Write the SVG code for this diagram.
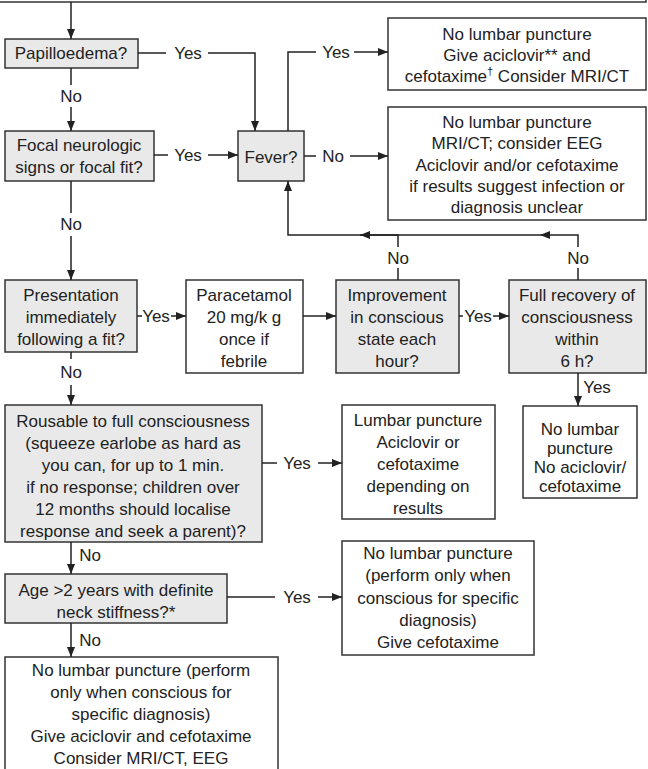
<svg xmlns="http://www.w3.org/2000/svg" width="648" height="769" viewBox="0 0 648 769">
<defs>
<marker id="ah" viewBox="0 0 10 8" refX="10" refY="4" markerWidth="10" markerHeight="8" markerUnits="userSpaceOnUse" orient="auto">
<path d="M0,0 L10,4 L0,8 Z" fill="#222"/>
</marker>
<style>
.q{fill:#e9e9e9;stroke:#333;stroke-width:1.5}
.a{fill:#fff;stroke:#333;stroke-width:1.5}
text{font-family:"Liberation Sans",Arial,sans-serif;font-size:17px;fill:#222;text-anchor:middle;dominant-baseline:central}
.c path{fill:none;stroke:#222;stroke-width:1.5}
.m{marker-end:url(#ah)}
</style>
</defs>
<rect width="648" height="769" fill="#fff"/>
<g id="top"><rect class="a" x="-2" y="-30" width="648" height="32"/></g>

<g id="papilloedema"><rect class="q" x="5" y="39" width="133" height="29"/><text x="71" y="53">Papilloedema?</text></g>
<g id="focal"><rect class="q" x="5" y="131" width="149" height="50"/><text x="79" y="145">Focal neurologic</text><text x="79" y="167">signs or focal fit?</text></g>
<g id="fever"><rect class="q" x="238" y="131" width="66" height="50"/><text x="271" y="157">Fever?</text></g>
<g id="out1"><rect class="a" x="388" y="18" width="258" height="72"/><text x="517" y="34">No lumbar puncture</text><text x="517" y="55">Give aciclovir** and</text><text x="517" y="76">cefotaxime<tspan dy="-5" font-size="11">†</tspan><tspan dy="5"> Consider MRI/CT</tspan></text></g>
<g id="out2"><rect class="a" x="388" y="107" width="258" height="113"/><text x="517" y="122">No lumbar puncture</text><text x="517" y="143">MRI/CT; consider EEG</text><text x="517" y="165">Aciclovir and/or cefotaxime</text><text x="517" y="186">if results suggest infection or</text><text x="517" y="207">diagnosis unclear</text></g>
<g id="presentation"><rect class="q" x="5" y="280" width="132" height="72"/><text x="71" y="295">Presentation</text><text x="71" y="317">immediately</text><text x="71" y="339">following a fit?</text></g>
<g id="paracetamol"><rect class="a" x="186" y="280" width="117" height="93"/><text x="244" y="295">Paracetamol</text><text x="244" y="317">20 mg/k g</text><text x="244" y="339">once if</text><text x="244" y="361">febrile</text></g>
<g id="improvement"><rect class="q" x="336" y="280" width="123" height="93"/><text x="397" y="295">Improvement</text><text x="397" y="317">in conscious</text><text x="397" y="339">state each</text><text x="397" y="361">hour?</text></g>
<g id="recovery"><rect class="q" x="509" y="280" width="137" height="93"/><text x="577" y="295">Full recovery of</text><text x="577" y="317">consciousness</text><text x="577" y="339">within</text><text x="577" y="361">6 h?</text></g>
<g id="rousable"><rect class="q" x="5" y="405" width="257" height="137"/><text x="133" y="421">Rousable to full consciousness</text><text x="133" y="443">(squeeze earlobe as hard as</text><text x="133" y="465">you can, for up to 1 min.</text><text x="133" y="487">if no response; children over</text><text x="133" y="509">12 months should localise</text><text x="133" y="531">response and seek a parent)?</text></g>
<g id="lumbar"><rect class="a" x="342" y="405" width="153" height="114"/><text x="418" y="420">Lumbar puncture</text><text x="418" y="442">Aciclovir or</text><text x="418" y="464">cefotaxime</text><text x="418" y="486">depending on</text><text x="418" y="508">results</text></g>
<g id="nolp"><rect class="a" x="523" y="406" width="114" height="92"/><text x="580" y="429">No lumbar</text><text x="580" y="448">puncture</text><text x="580" y="467">No aciclovir/</text><text x="580" y="486">cefotaxime</text></g>
<g id="age"><rect class="q" x="5" y="574" width="222" height="49"/><text x="116" y="590">Age &gt;2 years with definite</text><text x="116" y="612">neck stiffness?*</text></g>
<g id="out3"><rect class="a" x="342" y="541" width="192" height="114"/><text x="438" y="553">No lumbar puncture</text><text x="438" y="575">(perform only when</text><text x="438" y="598">conscious for specific</text><text x="438" y="620">diagnosis)</text><text x="438" y="642">Give cefotaxime</text></g>
<g id="out4"><rect class="a" x="5" y="657" width="273" height="130"/><text x="141" y="670">No lumbar puncture (perform</text><text x="141" y="692">only when conscious for</text><text x="141" y="714">specific diagnosis)</text><text x="141" y="736">Give aciclovir and cefotaxime</text><text x="141" y="758">Consider MRI/CT, EEG</text></g>

<g id="connectors" class="c">
<path class="m" d="M71,2 V39"/>
<path d="M138,53 H166"/><text x="188" y="53">Yes</text><path class="m" d="M208,53 H255 V131"/>
<path d="M71,68 V85"/><text x="71" y="96">No</text><path class="m" d="M71,107 V131"/>
<path d="M154,155 H168"/><text x="188" y="155">Yes</text><path class="m" d="M208,155 H238"/>
<path d="M71,181 V213"/><text x="71" y="224">No</text><path class="m" d="M71,236 V280"/>
<path d="M288,131 V52 H316"/><text x="336" y="52">Yes</text><path class="m" d="M354,52 H388"/>
<path d="M304,156 H316"/><text x="333" y="156">No</text><path class="m" d="M350,156 H388"/>
<path d="M398,280 V268"/><text x="398" y="258">No</text><path class="m" d="M398,247 V235 H360"/>
<path d="M578,280 V268"/><text x="578" y="258">No</text><path class="m" d="M578,247 V235 H540"/>
<path class="m" d="M540,235 H288 V181"/>
<path d="M137,316 H142"/><text x="156" y="316">Yes</text><path class="m" d="M171,316 H186"/>
<path class="m" d="M303,316 H336"/>
<path d="M459,316 H463"/><text x="478" y="316">Yes</text><path class="m" d="M493,316 H509"/>
<path class="m" d="M578,373 V406"/><text x="597" y="387">Yes</text>
<path d="M71,352 V359"/><text x="71" y="372">No</text><path class="m" d="M71,385 V405"/>
<path d="M262,463 H277"/><text x="297" y="463">Yes</text><path class="m" d="M318,463 H342"/>
<path class="m" d="M71,542 V574"/><text x="90" y="555">No</text>
<path d="M227,597 H275"/><text x="297" y="597">Yes</text><path class="m" d="M318,597 H342"/>
<path class="m" d="M71,623 V657"/><text x="90" y="640">No</text>
</g>
</svg>
